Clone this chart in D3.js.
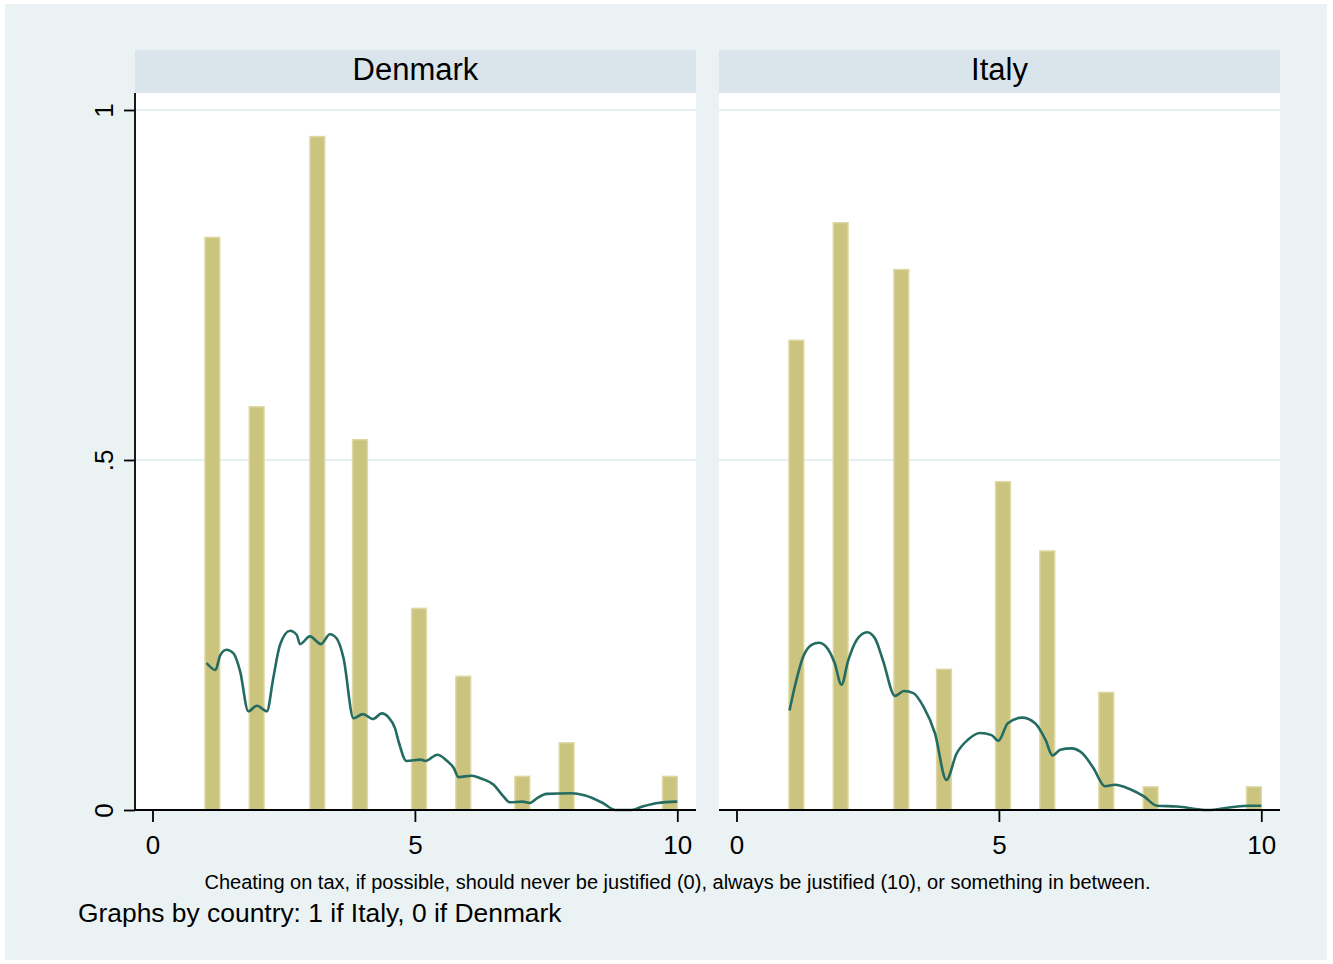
<!DOCTYPE html>
<html>
<head>
<meta charset="utf-8">
<script src="https://cdn.jsdelivr.net/npm/d3@7"></script>
<style>
    body { margin: 0; background: #ffffff; }
    svg text { font-family: "Liberation Sans", Arial, sans-serif; fill: #000; }
</style>
</head>
<body>
<div id="chart"></div>
<script>

// Histogram bins: left edge of each bin (in answer units), common bin width
let binStarts = [1, 1.84375, 3, 3.8125, 4.9375, 5.78125, 6.90625, 7.75, 9.71875];
let binWidth = 0.28125;

// Bar heights (density) per country
let denmarkBars = [0.818, 0.576, 0.962, 0.529, 0.288, 0.191, 0.048, 0.096, 0.048];
let italyBars = [0.671, 0.839, 0.772, 0.201, 0.469, 0.370, 0.168, 0.033, 0.033];

// Kernel density curves, [x, density]
let denmarkDensity = [
    [1.03, 0.210], [1.20, 0.200], [1.29, 0.221], [1.41, 0.229], [1.54, 0.224], [1.67, 0.198],
    [1.825, 0.141], [1.99, 0.149], [2.18, 0.141], [2.30, 0.188], [2.43, 0.236], [2.62, 0.256],
    [2.75, 0.250], [2.81, 0.237], [3.00, 0.248], [3.21, 0.237], [3.38, 0.251], [3.51, 0.245],
    [3.64, 0.217], [3.83, 0.131], [4.01, 0.137], [4.20, 0.130], [4.37, 0.138], [4.49, 0.133],
    [4.62, 0.117], [4.70, 0.095], [4.84, 0.070], [5.11, 0.072], [5.20, 0.070], [5.43, 0.079],
    [5.60, 0.071], [5.74, 0.060], [5.83, 0.047], [6.08, 0.049], [6.26, 0.045], [6.50, 0.036],
    [6.67, 0.021], [6.81, 0.011], [7.05, 0.012], [7.19, 0.010], [7.33, 0.017], [7.51, 0.023],
    [7.99, 0.024], [8.23, 0.021], [8.58, 0.010], [8.82, 0.000], [9.13, 0.000], [9.34, 0.005],
    [9.62, 0.010], [10.0, 0.012]
];
let italyDensity = [
    [1.01, 0.142], [1.11, 0.176], [1.27, 0.219], [1.43, 0.236], [1.57, 0.239], [1.71, 0.233],
    [1.87, 0.210], [2.00, 0.179], [2.13, 0.214], [2.29, 0.243], [2.49, 0.254], [2.64, 0.245],
    [2.79, 0.214], [3.02, 0.163], [3.19, 0.170], [3.37, 0.167], [3.56, 0.148], [3.78, 0.110],
    [4.00, 0.043], [4.19, 0.080], [4.42, 0.101], [4.64, 0.110], [4.86, 0.107], [4.99, 0.099],
    [5.17, 0.124], [5.44, 0.132], [5.69, 0.124], [5.89, 0.100], [6.02, 0.078], [6.17, 0.086],
    [6.38, 0.088], [6.59, 0.081], [6.80, 0.060], [7.02, 0.034], [7.21, 0.036], [7.49, 0.030],
    [7.77, 0.019], [8.01, 0.006], [8.39, 0.005], [8.98, 0.000], [9.43, 0.004], [9.78, 0.006],
    [10.0, 0.006]
];

// Tick values and labels
let xTicks = [0, 5, 10];
let yTicks = [0, 0.5, 1];
let yTickLabels = ["0", ".5", "1"];
let gridTicks = [0.5, 1];

let panelTitles = ["Denmark", "Italy"];
let xAxisTitle = "Cheating on tax, if possible, should never be justified (0), always be justified (10), or something in between.";
let noteText = "Graphs by country: 1 if Italy, 0 if Denmark";


class PanelVis {

    constructor(_svg, _left, _title, _bars, _density, _showYAxis) {
        this.svg = _svg;
        this.left = _left;
        this.title = _title;
        this.bars = _bars;
        this.density = _density;
        this.showYAxis = _showYAxis;

        this.initVis();
    }

    initVis() {
        let vis = this;

        vis.width = 561;
        vis.stripTop = 50;
        vis.plotTop = 93;
        vis.plotBottom = 810;

        // 0..10 does not fill the panel, stata pads both sides
        vis.x = d3.scaleLinear()
            .domain([0, 10])
            .range([vis.left + 17.5, vis.left + 542.3]);

        vis.y = d3.scaleLinear()
            .domain([0, 1])
            .range([vis.plotBottom, 110]);

        vis.g = vis.svg.append("g");

        // strip with country name
        vis.g.append("rect")
            .attr("x", vis.left)
            .attr("y", vis.stripTop)
            .attr("width", vis.width)
            .attr("height", vis.plotTop - vis.stripTop)
            .attr("fill", "#d9e5eb");

        vis.g.append("text")
            .attr("x", vis.left + vis.width / 2)
            .attr("y", 80)
            .attr("text-anchor", "middle")
            .style("font-size", "31px")
            .text(vis.title);

        // white plot area
        vis.g.append("rect")
            .attr("x", vis.left)
            .attr("y", vis.plotTop)
            .attr("width", vis.width)
            .attr("height", vis.plotBottom - vis.plotTop)
            .attr("fill", "#ffffff");

        vis.wrangleData();
    }

    wrangleData() {
        let vis = this;

        vis.barData = binStarts.map((s, i) => ({x0: s, x1: s + binWidth, value: vis.bars[i]}));
        vis.lineData = vis.density.map(d => ({x: d[0], y: d[1]}));

        vis.updateVis();
    }

    updateVis() {
        let vis = this;

        // gridlines
        vis.g.selectAll(".grid")
            .data(gridTicks)
            .enter()
            .append("line")
            .attr("class", "grid")
            .attr("x1", vis.left)
            .attr("x2", vis.left + vis.width)
            .attr("y1", d => vis.y(d))
            .attr("y2", d => vis.y(d))
            .attr("stroke", "#e6eff1")
            .attr("stroke-width", 1.8);

        // histogram bars
        vis.g.selectAll(".bar")
            .data(vis.barData)
            .enter()
            .append("rect")
            .attr("class", "bar")
            .attr("x", d => vis.x(d.x0))
            .attr("y", d => vis.y(d.value))
            .attr("width", d => vis.x(d.x1) - vis.x(d.x0))
            .attr("height", d => vis.y(0) - vis.y(d.value))
            .attr("fill", "#cbc47f")
            .attr("stroke", "#ddd8a4")
            .attr("stroke-width", 1.5);

        // density curve
        let line = d3.line()
            .x(d => vis.x(d.x))
            .y(d => vis.y(d.y))
            .curve(d3.curveMonotoneX);

        vis.g.append("path")
            .datum(vis.lineData)
            .attr("d", line)
            .attr("fill", "none")
            .attr("stroke", "#246b62")
            .attr("stroke-width", 2.6)
            .attr("stroke-linejoin", "round");

        // x axis
        vis.xAxis = d3.axisBottom(vis.x)
            .tickValues(xTicks)
            .tickFormat(d3.format("d"))
            .tickSize(12);

        let xg = vis.g.append("g")
            .attr("transform", "translate(0," + vis.plotBottom + ")")
            .call(vis.xAxis);
        xg.select(".domain").remove();
        xg.selectAll("line").attr("stroke", "#000").attr("stroke-width", 1.8);
        xg.selectAll("text")
            .attr("y", 44)
            .attr("dy", null)
            .style("font-size", "26px")
            .attr("fill", "#000");

        xg.append("line")
            .attr("x1", vis.left)
            .attr("x2", vis.left + vis.width)
            .attr("y1", 0)
            .attr("y2", 0)
            .attr("stroke", "#000")
            .attr("stroke-width", 1.8);

        // y axis only on the first panel
        if (vis.showYAxis) {
            vis.yAxis = d3.axisLeft(vis.y)
                .tickValues(yTicks)
                .tickFormat((d, i) => yTickLabels[i])
                .tickSize(11);

            let yg = vis.g.append("g")
                .attr("transform", "translate(" + vis.left + ",0)")
                .call(vis.yAxis);
            yg.select(".domain").remove();
            yg.selectAll("line").attr("stroke", "#000").attr("stroke-width", 1.8);
            yg.selectAll("text")
                .attr("x", null)
                .attr("dy", null)
                .attr("text-anchor", "middle")
                .attr("transform", "translate(-22,0) rotate(-90)")
                .style("font-size", "26px")
                .attr("fill", "#000");

            yg.append("line")
                .attr("x1", 0)
                .attr("x2", 0)
                .attr("y1", vis.plotTop)
                .attr("y2", vis.plotBottom)
                .attr("stroke", "#000")
                .attr("stroke-width", 1.8);
        }
    }
}


let svg = d3.select("#chart").append("svg")
    .attr("width", 1333)
    .attr("height", 964);

// graph region
svg.append("rect")
    .attr("x", 5)
    .attr("y", 4)
    .attr("width", 1322)
    .attr("height", 956)
    .attr("fill", "#eaf2f3");

let denmarkVis = new PanelVis(svg, 135, panelTitles[0], denmarkBars, denmarkDensity, true);
let italyVis = new PanelVis(svg, 719, panelTitles[1], italyBars, italyDensity, false);

svg.append("text")
    .attr("x", 677.5)
    .attr("y", 889)
    .attr("text-anchor", "middle")
    .style("font-size", "20px")
    .text(xAxisTitle);

svg.append("text")
    .attr("x", 78)
    .attr("y", 922)
    .style("font-size", "26.4px")
    .text(noteText);

</script>
</body>
</html>
